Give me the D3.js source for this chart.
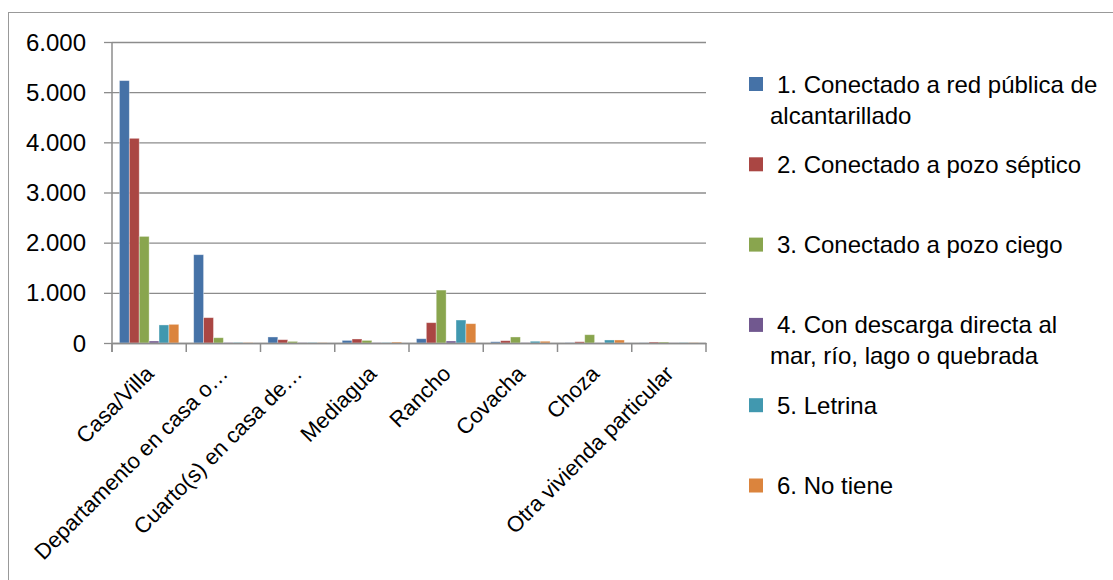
<!DOCTYPE html>
<html>
<head>
<meta charset="utf-8">
<script src="https://cdn.jsdelivr.net/npm/d3@7"></script>
<style>
  body { margin: 0; background: #fff; }
  svg { font-family: "Liberation Sans", Arial, sans-serif; }
</style>
</head>
<body>
<svg id="chart" width="1113" height="580"></svg>
<script>
const categories = ["Casa/Villa", "Departamento en casa o…", "Cuarto(s) en casa de…", "Mediagua",
  "Rancho", "Covacha", "Choza", "Otra vivienda particular"];

const seriesNames = [
  "1. Conectado a red pública de alcantarillado",
  "2. Conectado a pozo séptico",
  "3. Conectado a pozo ciego",
  "4. Con descarga directa al mar, río, lago o quebrada",
  "5. Letrina",
  "6. No tiene"
];

// one array per series, in category order
const redPublica = [5230, 1760, 120, 52, 85, 25, 5, 3];
const pozoSeptico = [4080, 505, 66, 80, 405, 46, 25, 20];
const pozoCiego = [2125, 105, 32, 52, 1055, 120, 165, 20];
const descargaDirecta = [40, 8, 5, 4, 40, 5, 2, 2];
const letrina = [360, 10, 6, 8, 458, 35, 60, 5];
const noTiene = [372, 8, 5, 20, 385, 35, 60, 5];

const yTicks = [0, 1000, 2000, 3000, 4000, 5000, 6000];
const colors = ["#4572A7", "#AA4643", "#89A54E", "#71588F", "#4198AF", "#DB843D"];

const series = [redPublica, pozoSeptico, pozoCiego, descargaDirecta, letrina, noTiene];

const svg = d3.select("#chart");
const plotLeft = 112, plotRight = 706, plotTop = 42, plotBottom = 343;

// outer frame
svg.append("rect")
  .attr("x", 8.5).attr("y", 12.5)
  .attr("width", 1120).attr("height", 600)
  .attr("fill", "none").attr("stroke", "#999");

const x = d3.scaleBand().domain(categories).range([plotLeft, plotRight]);
const xInner = d3.scaleBand().domain(d3.range(series.length))
  .range([0, x.bandwidth()]).paddingOuter(0.75).paddingInner(0);
const y = d3.scaleLinear().domain([0, 6000]).range([plotBottom, plotTop]);

const fmt = d3.formatLocale({ decimal: ",", thousands: ".", grouping: [3], currency: ["", ""] }).format(",");

// grid
svg.append("g")
  .attr("transform", `translate(${plotLeft},0)`)
  .call(d3.axisLeft(y).tickValues(yTicks).tickSize(8).tickFormat(""))
  .call(g => g.select(".domain").remove())
  .call(g => g.selectAll("line").attr("stroke", "#8c8c8c").attr("stroke-width", 1.3))
  .call(g => g.selectAll(".tick").append("line")
    .attr("x1", 0).attr("x2", plotRight - plotLeft)
    .attr("stroke", "#8c8c8c").attr("stroke-width", 1.3));

// y labels
svg.append("g").selectAll("text").data(yTicks).join("text")
  .attr("x", 86).attr("y", d => y(d) + 8.5)
  .attr("text-anchor", "end")
  .attr("font-size", 24).attr("fill", "#000")
  .text(d => fmt(d));

// bars
const groups = svg.append("g").selectAll("g").data(series).join("g")
  .attr("fill", (d, i) => colors[i]);
groups.each(function(vals, si) {
  d3.select(this).selectAll("rect").data(vals).join("rect")
    .attr("x", (v, ci) => x(categories[ci]) + xInner(si))
    .attr("width", xInner.bandwidth())
    .attr("y", v => y(v))
    .attr("height", v => y(0) - y(v))
    .attr("stroke", "rgba(255,255,255,0.45)")
    .attr("stroke-width", 0.8);
});

// axes lines
const xAxis = svg.append("g")
  .attr("transform", `translate(0,${plotBottom})`)
  .call(d3.axisBottom(x).tickSize(0).tickFormat(""));
xAxis.select(".domain").attr("stroke", "#8c8c8c").attr("stroke-width", 1.5);
svg.append("g").selectAll("line").data(d3.range(categories.length + 1)).join("line")
  .attr("x1", i => plotLeft + i * x.step()).attr("x2", i => plotLeft + i * x.step())
  .attr("y1", plotBottom).attr("y2", plotBottom + 9)
  .attr("stroke", "#8c8c8c").attr("stroke-width", 1.5);
svg.append("line")
  .attr("x1", plotLeft).attr("x2", plotLeft).attr("y1", plotTop).attr("y2", plotBottom + 9)
  .attr("stroke", "#8c8c8c").attr("stroke-width", 1.5);

// x labels
svg.append("g").selectAll("text").data(categories).join("text")
  .attr("transform", d => `translate(${x(d) + x.bandwidth() / 2 + 6},${plotBottom + 32}) rotate(-45)`)
  .attr("text-anchor", "end")
  .attr("font-size", 22).attr("fill", "#000")
  .text(d => d);

// legend
const legendLines = [
  ["1. Conectado a red pública de", "alcantarillado"],
  ["2. Conectado a pozo séptico"],
  ["3. Conectado a pozo ciego"],
  ["4. Con descarga directa al", "mar, río, lago o quebrada"],
  ["5. Letrina"],
  ["6. No tiene"]
];
const leg = svg.append("g").selectAll("g").data(seriesNames).join("g")
  .attr("transform", (d, i) => `translate(749,${84 + i * 80.3})`);
leg.append("rect")
  .attr("x", 0).attr("y", -7).attr("width", 14).attr("height", 14)
  .attr("fill", (d, i) => colors[i]);
leg.each(function(d, i) {
  const t = d3.select(this).append("text").attr("font-size", 24).attr("fill", "#000");
  legendLines[i].forEach((line, k) => {
    t.append("tspan")
      .attr("x", k === 0 ? 28 : 21)
      .attr("y", 8.5 + k * 31)
      .text(line);
  });
});
</script>
</body>
</html>
